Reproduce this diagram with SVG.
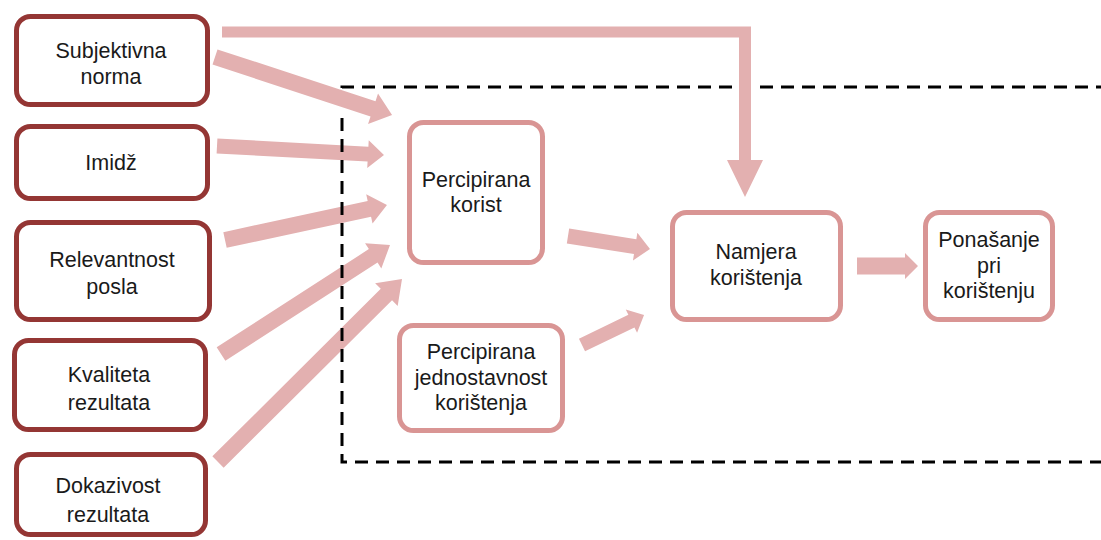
<svg xmlns="http://www.w3.org/2000/svg" width="1101" height="540" viewBox="0 0 1101 540">
<style>
.dark{fill:#fff;stroke:#943634;stroke-width:5}
.pink{fill:#fff;stroke:#d99594;stroke-width:5}
.arr{fill:#e3b0b0;stroke:none}
.dash{fill:none;stroke:#000;stroke-width:3;stroke-dasharray:13 8}
text{font-family:"Liberation Sans",Arial,sans-serif;font-size:21.5px;fill:#1a1a1a;text-anchor:middle}
</style>
<rect width="1101" height="540" fill="#fff"/>
<g id="connectors">
<path class="arr" d="M222,26.5 H751 V160 H763 L745,197 L727,160 H739 V37.5 H222 Z"/>
<path class="arr" transform="translate(215,57) rotate(18.14)" d="M0,-8 H166.3 V-16 L186.3,0 L166.3,16 V8 H0 Z"/>
<path class="arr" transform="translate(217,146) rotate(3.08)" d="M0,-7.5 H151.2 V-14 L167.2,0 L151.2,14 V7.5 H0 Z"/>
<path class="arr" transform="translate(225,240) rotate(-12.19)" d="M0,-8 H147.7 V-15 L165.7,0 L147.7,15 V8 H0 Z"/>
<path class="arr" transform="translate(221,354) rotate(-32.82)" d="M0,-8 H181.1 V-15 L201.1,0 L181.1,15 V8 H0 Z"/>
<path class="arr" transform="translate(218,462) rotate(-44.84)" d="M0,-8 H237.5 V-16 L259.5,0 L237.5,16 V8 H0 Z"/>
<path class="arr" transform="translate(568,236) rotate(9.01)" d="M0,-7.5 H68 V-14 L83,0 L68,14 V7.5 H0 Z"/>
<path class="arr" transform="translate(582,345) rotate(-25.82)" d="M0,-7 H54.9 V-13 L68.9,0 L54.9,13 V7 H0 Z"/>
<path class="arr" d="M857,257.5 H905 V253 L918,266 L905,279 V274.5 H857 Z"/>
</g>
<g id="boundary">
<path class="dash" d="M732,87 H342 V93"/>
<path class="dash" d="M342,118 V462 H1110"/>
<path class="dash" d="M760,87 H1110"/>
</g>
<g id="subjektivna-norma">
<rect class="dark" x="16.5" y="16.5" width="191" height="88" rx="14"/>
<text x="111" y="58">Subjektivna</text>
<text x="111" y="84">norma</text>
</g>
<g id="imidz">
<rect class="dark" x="16.5" y="126.5" width="191" height="72" rx="14"/>
<text x="111" y="170">Imidž</text>
</g>
<g id="relevantnost-posla">
<rect class="dark" x="16.5" y="222.5" width="193" height="97" rx="14"/>
<text x="112" y="267">Relevantnost</text>
<text x="112" y="294">posla</text>
</g>
<g id="kvaliteta-rezultata">
<rect class="dark" x="14.5" y="340.5" width="191" height="89" rx="14"/>
<text x="109" y="382">Kvaliteta</text>
<text x="109" y="410">rezultata</text>
</g>
<g id="dokazivost-rezultata">
<rect class="dark" x="16.5" y="454.5" width="189" height="80" rx="14"/>
<text x="108" y="493">Dokazivost</text>
<text x="108" y="522">rezultata</text>
</g>
<g id="percipirana-korist">
<rect class="pink" x="409.5" y="122.5" width="133" height="140" rx="14"/>
<text x="476" y="187">Percipirana</text>
<text x="476" y="212">korist</text>
</g>
<g id="percipirana-jednostavnost">
<rect class="pink" x="399.5" y="325.5" width="163" height="105" rx="14"/>
<text x="481" y="359">Percipirana</text>
<text x="481" y="385">jednostavnost</text>
<text x="481" y="410">korištenja</text>
</g>
<g id="namjera-koristenja">
<rect class="pink" x="672.5" y="212.5" width="168" height="107" rx="14"/>
<text x="756" y="259">Namjera</text>
<text x="756" y="285">korištenja</text>
</g>
<g id="ponasanje">
<rect class="pink" x="925.5" y="212.5" width="127" height="107" rx="14"/>
<text x="989" y="247">Ponašanje</text>
<text x="989" y="273">pri</text>
<text x="989" y="298">korištenju</text>
</g>
</svg>
